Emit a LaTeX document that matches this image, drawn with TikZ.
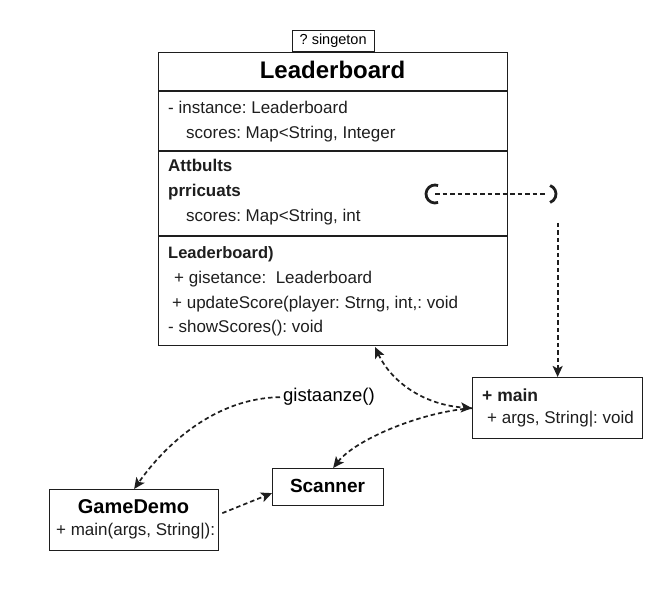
\documentclass[tikz,border=0pt]{standalone}
\usepackage{fontspec}
\setmainfont{Liberation Sans}
\usetikzlibrary{arrows.meta,positioning,calc}
\definecolor{ink}{HTML}{1E1E1E}
\frenchspacing
\newcommand{\fsz}[1]{\fontsize{#1}{#1}\selectfont}
\tikzset{
  cls/.style={draw=ink,line width=1.3pt,inner sep=0pt},
  mem/.style={anchor=base west,inner sep=0pt,text=ink,font=\fsz{17}},
  memb/.style={mem,font=\bfseries\fsz{17}},
  dsh/.style={draw=ink,line width=1.7pt,dash pattern=on 4.5pt off 3pt},
  dep/.style={dsh,-{Stealth[length=11pt,width=10pt,inset=2.5pt]}},
  dep2/.style={dsh,{Stealth[length=11pt,width=10pt,inset=2.5pt]}-{Stealth[length=11pt,width=10pt,inset=2.5pt]}},
  hook/.style={draw=ink,line width=2.8pt},
}
\begin{document}
\begin{tikzpicture}[x=1pt,y=-1pt]
\useasboundingbox (0,0) rectangle (665,601);
% singleton class
\node[cls,anchor=north west,minimum width=349pt,minimum height=293pt] (lb) at (158,52) {};
\node[cls,line width=1pt,anchor=south,minimum width=82pt,minimum height=21pt,font=\fsz{14.5}] (tag) at (lb.north) {?\ singeton};
\node[anchor=base,inner sep=0pt,font=\bfseries\fsz{24}] (lbt) at (332.5,79) {Leaderboard};
\draw[cls] (lb.west |- 0,91) -- (lb.east |- 0,91);
\draw[cls] (lb.west |- 0,151) -- (lb.east |- 0,151);
\draw[cls] (lb.west |- 0,236) -- (lb.east |- 0,236);
\node[mem] (f1) at (168,114) {- instance: Leaderboard};
\node[mem] (f2) at (186,139) {scores: Map<String, Integer};
\node[memb] (a1) at (168,172) {Attbults};
\node[memb] (a2) at (168,197) {prricuats};
\node[mem] (a3) at (186,222) {scores: Map<String, int};
\node[memb,font=\bfseries\fsz{16.5}] (m0) at (168,259) {Leaderboard)};
\node[mem] (m1) at (174,284) {+ gisetance:\ \ Leaderboard};
\node[mem] (m2) at (172,309) {+ updateScore(player: Strng, int,: void};
\node[mem] (m3) at (168,333) {- showScores(): void};
% other classes
\node[cls,anchor=north west,minimum width=170pt,minimum height=61pt] (main) at (472,377) {};
\node[memb,font=\bfseries\fsz{17.5}] (mainh) at (482,402) {+ main};
\node[mem] (mainb) at (487,424) {+ args, String|: void};
\node[cls,anchor=north west,minimum width=111pt,minimum height=37pt] (sc) at (272,468) {};
\node[anchor=base,inner sep=0pt,font=\bfseries\fsz{19}] (sct) at (327.5,493) {Scanner};
\node[cls,anchor=north west,minimum width=169pt,minimum height=61pt] (gd) at (49,489) {};
\node[anchor=base,inner sep=0pt,font=\bfseries\fsz{20}] (gdt) at (133.5,514) {GameDemo};
\node[mem] (gdb) at (56,536) {+ main(args, String|):};
\node[anchor=base west,inner xsep=3pt,inner ysep=2pt,font=\fsz{18.5}] (gist) at (280,402) {gistaanze()};
% connectors
\coordinate (capL) at (435,194);
\coordinate (capR) at (547,194);
\draw[dsh] (capL) -- (capR);
\draw[hook] ([shift={(70:9)}]capL) arc[start angle=70,end angle=290,radius=9];
\draw[hook] ([shift={(-70:9)}]capR) arc[start angle=-70,end angle=70,radius=9];
\coordinate (vtop) at (main.north |- 0,223);
\draw[dep] (vtop) -- (main.north);
\coordinate (lbB) at (375,347);
\draw[dep2] (lbB) .. controls (392,383) and (425,405) .. (main.west);
\draw[dep] (main.west) .. controls (420,412) and (355,440) .. ([xshift=5pt]sc.north);
\draw[dep] (gist.west) .. controls (215,398) and (165,445) .. (gd.north);
\draw[dep] ([xshift=3pt,yshift=7pt]gd.east) -- ([yshift=-6pt]sc.west);
\end{tikzpicture}
\end{document}
